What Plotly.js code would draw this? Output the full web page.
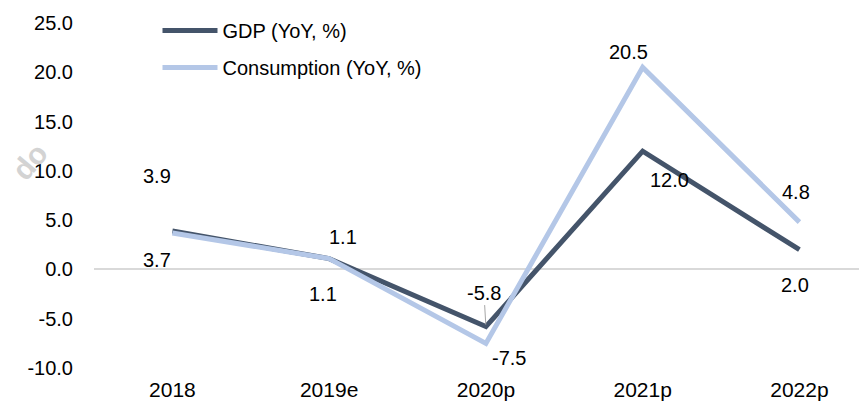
<!DOCTYPE html>
<html>
<head>
<meta charset="utf-8">
<script src="https://cdn.plot.ly/plotly-3.0.1.min.js"></script>
<style>
  html, body { margin: 0; padding: 0; background: #fff; }
  #chart { width: 859px; height: 407px; }
</style>
</head>
<body>
<div id="chart"></div>
<script>
const years = ["2018", "2019e", "2020p", "2021p", "2022p"];
const gdp = [3.9, 1.1, -5.8, 12.0, 2.0];
const consumption = [3.7, 1.1, -7.5, 20.5, 4.8];
const yTicks = [-10, -5, 0, 5, 10, 15, 20, 25];

const gdpColor = "#44546A";
const consColor = "#B4C7E7";
const fontFamily = "Liberation Sans, Arial, sans-serif";

// label offsets (px) for each point
const gdpShift = [[-15, 55], [14, 22], [0, 0], [27, -29], [-4, -35]];
const consShift = [[-15, -27], [-6, -35], [23, -15], [-14, 15], [-3, 30]];

const annotations = [];
years.forEach((yr, i) => {
  // category index, so "2018" is not read as a number
  if (i === 2) {
    annotations.push({
      x: i, y: gdp[i], xref: "x", yref: "y",
      text: gdp[i].toFixed(1),
      showarrow: true, arrowhead: 0, arrowwidth: 1, arrowcolor: "#A6A6A6",
      ax: -2, ay: -34, standoff: 2,
      font: { size: 20, color: "#000", family: fontFamily },
    });
  } else {
    annotations.push({
      x: i, y: gdp[i], xref: "x", yref: "y",
      text: gdp[i].toFixed(1), showarrow: false,
      xshift: gdpShift[i][0], yshift: gdpShift[i][1],
      font: { size: 20, color: "#000", family: fontFamily },
    });
  }
  annotations.push({
    x: i, y: consumption[i], xref: "x", yref: "y",
    text: consumption[i].toFixed(1), showarrow: false,
    xshift: consShift[i][0], yshift: consShift[i][1],
    font: { size: 20, color: "#000", family: fontFamily },
  });
});

// faint watermark fragment at the left edge
annotations.push({
  x: -0.12, y: 0.6, xref: "paper", yref: "paper",
  text: "<b>do</b>", showarrow: false, textangle: -50,
  font: { size: 30, color: "#D3D3D3", family: fontFamily },
});

const traces = [
  {
    x: years, y: gdp, type: "scatter", mode: "lines",
    name: "GDP (YoY, %)", legendgroup: "a",
    line: { color: gdpColor, width: 5 },
  },
  {
    x: years, y: consumption, type: "scatter", mode: "lines",
    name: "Consumption (YoY, %)", legendgroup: "b",
    line: { color: consColor, width: 5 },
  },
];

Plotly.newPlot("chart", traces, {
  width: 859,
  height: 407,
  paper_bgcolor: "#fff",
  plot_bgcolor: "#fff",
  font: { family: fontFamily, size: 20, color: "#000" },
  margin: { l: 94, r: 0, t: 23, b: 39 },
  showlegend: true,
  legend: {
    x: 0.083, y: 1.035, xanchor: "left", yanchor: "top",
    bgcolor: "rgba(0,0,0,0)",
    font: { size: 20, family: fontFamily },
    traceorder: "grouped", tracegroupgap: 8,
    itemwidth: 55,
  },
  xaxis: {
    type: "category",
    range: [-0.5, 4.38],
    showgrid: false, zeroline: false, showline: false,
    ticks: "", tickfont: { size: 21 }, ticklabelstandoff: 7,
  },
  yaxis: {
    range: [-10, 25],
    tickvals: yTicks,
    ticktext: yTicks.map((v) => v.toFixed(1)),
    showgrid: false, zeroline: true, zerolinecolor: "#D9D9D9", zerolinewidth: 2,
    showline: false, ticks: "", ticklabelstandoff: 20,
    tickfont: { size: 20 },
  },
  annotations,
}, { staticPlot: true });
</script>
</body>
</html>
